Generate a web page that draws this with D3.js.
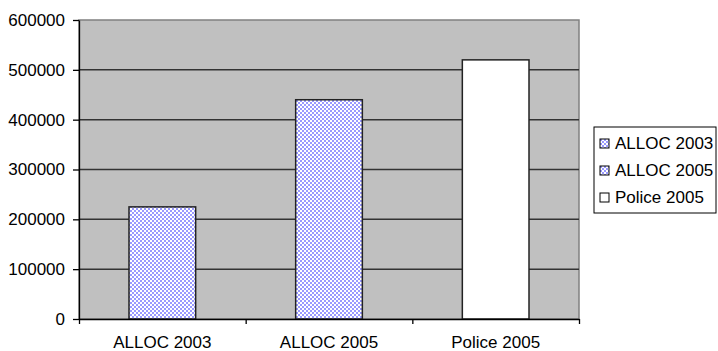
<!DOCTYPE html>
<html>
<head>
<meta charset="utf-8">
<script src="https://cdn.jsdelivr.net/npm/d3@7"></script>
<style>
  body { margin: 0; background: #fff; }
  svg { display: block; font-family: "Liberation Sans", Arial, sans-serif; }
</style>
</head>
<body>
<svg id="chart"></svg>
<script>
// chart data
const categories = ["ALLOC 2003", "ALLOC 2005", "Police 2005"];
const values = [225000, 440000, 520000];
const yTicks = [0, 100000, 200000, 300000, 400000, 500000, 600000];

const width = 718;
const height = 351;
const plot = { left: 79, right: 579, top: 20, bottom: 319 };
const fontSize = 17;

const svg = d3.select("#chart")
    .attr("width", width)
    .attr("height", height);

// checker pattern for the ALLOC bars
const defs = svg.append("defs");
const pat = defs.append("pattern")
    .attr("id", "checks")
    .attr("patternUnits", "userSpaceOnUse")
    .attr("width", 4)
    .attr("height", 4);
pat.append("rect").attr("width", 4).attr("height", 4).attr("fill", "#fff");
pat.append("rect").attr("width", 2).attr("height", 2).attr("fill", "#9999ff");
pat.append("rect").attr("x", 2).attr("y", 2).attr("width", 2).attr("height", 2).attr("fill", "#9999ff");

const fills = ["url(#checks)", "url(#checks)", "#fff"];

// scales
const x = d3.scaleBand()
    .domain(categories)
    .range([plot.left, plot.right])
    .padding(0);

const y = d3.scaleLinear()
    .domain([0, 600000])
    .range([plot.bottom, plot.top]);

// plot background
svg.append("rect")
    .attr("x", plot.left)
    .attr("y", plot.top)
    .attr("width", plot.right - plot.left)
    .attr("height", plot.bottom - plot.top)
    .attr("fill", "#c0c0c0")
    .attr("stroke", "#808080")
    .attr("stroke-width", 1.5);

// gridlines
svg.append("g")
    .selectAll("line")
    .data(yTicks.filter(d => d > 0 && d < 600000))
    .enter()
    .append("line")
    .attr("x1", plot.left)
    .attr("x2", plot.right)
    .attr("y1", d => y(d))
    .attr("y2", d => y(d))
    .attr("stroke", "#333")
    .attr("stroke-width", 1.5);

// bars
const bw = x.bandwidth() * 0.4;
svg.append("g")
    .selectAll("rect")
    .data(values)
    .enter()
    .append("rect")
    .attr("x", (d, i) => x(categories[i]) + (x.bandwidth() - bw) / 2)
    .attr("y", d => y(d))
    .attr("width", bw)
    .attr("height", d => y(0) - y(d))
    .attr("fill", (d, i) => fills[i])
    .attr("stroke", "#222")
    .attr("stroke-width", 1.5);

// y axis
const yAxis = d3.axisLeft(y)
    .tickValues(yTicks)
    .tickFormat(d3.format("d"))
    .tickSize(6)
    .tickSizeOuter(0)
    .tickPadding(8);
svg.append("g")
    .attr("transform", `translate(${plot.left},0)`)
    .call(yAxis)
    .call(g => g.selectAll("text").attr("font-size", fontSize).attr("fill", "#000").attr("font-family", null))
    .call(g => g.selectAll("line, path").attr("stroke", "#000").attr("stroke-width", 1.3));

// x axis: ticks at band edges, labels at centres
const edge = d3.scaleLinear().domain([0, categories.length]).range([plot.left, plot.right]);
svg.append("g")
    .attr("transform", `translate(0,${plot.bottom})`)
    .call(d3.axisBottom(edge).ticks(categories.length).tickFormat("").tickSize(5).tickSizeOuter(0))
    .call(g => g.selectAll("line, path").attr("stroke", "#000").attr("stroke-width", 1.3));

svg.append("g")
    .attr("transform", `translate(0,${plot.bottom})`)
    .call(d3.axisBottom(x).tickSize(0).tickPadding(17))
    .call(g => g.select(".domain").remove())
    .call(g => g.selectAll("text").attr("font-size", fontSize).attr("fill", "#000").attr("font-family", null));

// legend
const legend = svg.append("g");
legend.append("rect")
    .attr("x", 594)
    .attr("y", 127)
    .attr("width", 122)
    .attr("height", 86)
    .attr("fill", "#fff")
    .attr("stroke", "#000")
    .attr("stroke-width", 1);

const item = legend.selectAll("g.item")
    .data(categories)
    .enter()
    .append("g")
    .attr("class", "item")
    .attr("transform", (d, i) => `translate(600,${143 + i * 27})`);
item.append("rect")
    .attr("x", 0)
    .attr("y", -4)
    .attr("width", 9)
    .attr("height", 9)
    .attr("fill", (d, i) => fills[i])
    .attr("stroke", "#000")
    .attr("stroke-width", 1);
item.append("text")
    .attr("x", 15)
    .attr("y", 0)
    .attr("dy", "0.35em")
    .attr("font-size", fontSize)
    .text(d => d);
</script>
</body>
</html>
